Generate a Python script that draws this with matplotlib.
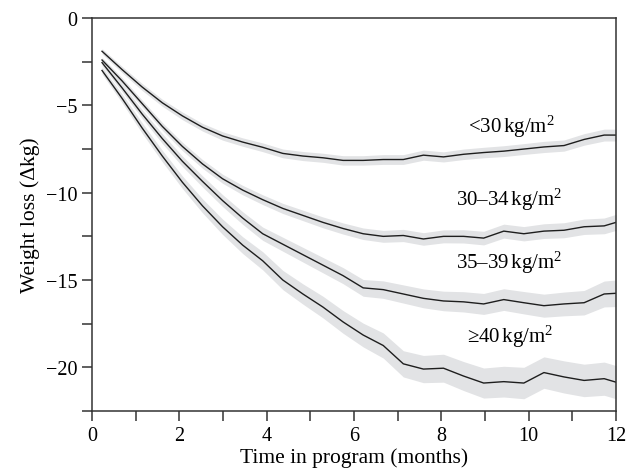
import numpy as np
import matplotlib
matplotlib.use("Agg")
import matplotlib.pyplot as plt

matplotlib.rcParams['font.family'] = 'serif'
matplotlib.rcParams['font.serif'] = ['Liberation Serif']
matplotlib.rcParams['mathtext.fontset'] = 'custom'
matplotlib.rcParams['mathtext.rm'] = 'Liberation Serif'
matplotlib.rcParams['mathtext.it'] = 'Liberation Serif:italic'
matplotlib.rcParams['font.size'] = 14

# time in program (months), one point every two weeks
months = [0.23, 0.69, 1.15, 1.61, 2.07, 2.53, 2.99, 3.45, 3.91, 4.37, 4.83, 5.29, 5.75,
          6.21, 6.67, 7.13, 7.59, 8.05, 8.51, 8.97, 9.43, 9.89, 10.35, 10.81, 11.27, 11.73, 12.0]

# mean weight loss per BMI group
bmi_lt30 = [-1.9, -2.95, -3.95, -4.85, -5.6, -6.25, -6.75, -7.1, -7.4, -7.75, -7.9, -8.0, -8.15,
            -8.15, -8.1, -8.1, -7.85, -7.95, -7.8, -7.7, -7.62, -7.5, -7.38, -7.3, -6.95, -6.7, -6.7]
bmi_30_34 = [-2.4, -3.6, -4.9, -6.2, -7.35, -8.35, -9.2, -9.85, -10.4, -10.9, -11.3, -11.7, -12.05,
             -12.35, -12.5, -12.45, -12.65, -12.5, -12.5, -12.6, -12.2, -12.35, -12.2, -12.15, -11.95, -11.9, -11.7]
bmi_35_39 = [-2.55, -4.0, -5.5, -6.9, -8.2, -9.35, -10.45, -11.45, -12.35, -12.95, -13.55, -14.15, -14.75,
             -15.45, -15.55, -15.8, -16.05, -16.2, -16.25, -16.37, -16.12, -16.3, -16.47, -16.37, -16.3, -15.8, -15.76]
bmi_ge40 = [-3.0, -4.6, -6.3, -7.9, -9.4, -10.75, -11.95, -13.0, -13.9, -15.0, -15.8, -16.55, -17.4,
            -18.15, -18.75, -19.8, -20.1, -20.05, -20.5, -20.9, -20.82, -20.9, -20.3, -20.55, -20.75, -20.65, -20.85]

# half width of the shaded confidence band
ci_lt30 = [0.15, 0.18, 0.2, 0.2, 0.22, 0.22, 0.24, 0.24, 0.25, 0.25, 0.26, 0.26, 0.27,
           0.27, 0.28, 0.28, 0.29, 0.29, 0.3, 0.3, 0.31, 0.31, 0.32, 0.32, 0.33, 0.34, 0.34]
ci_30_34 = [0.15, 0.18, 0.2, 0.22, 0.24, 0.25, 0.26, 0.27, 0.28, 0.29, 0.3, 0.31, 0.32,
            0.33, 0.34, 0.35, 0.36, 0.37, 0.38, 0.39, 0.4, 0.41, 0.42, 0.43, 0.44, 0.45, 0.46]
ci_35_39 = [0.18, 0.22, 0.25, 0.28, 0.3, 0.32, 0.34, 0.36, 0.38, 0.4, 0.42, 0.44, 0.46,
            0.48, 0.5, 0.52, 0.54, 0.56, 0.58, 0.6, 0.62, 0.64, 0.66, 0.68, 0.7, 0.74, 0.76]
ci_ge40 = [0.2, 0.25, 0.3, 0.33, 0.36, 0.4, 0.44, 0.48, 0.52, 0.55, 0.58, 0.62, 0.65,
           0.68, 0.72, 0.75, 0.78, 0.8, 0.83, 0.86, 0.88, 0.9, 0.9, 0.92, 0.93, 0.95, 0.95]

group_labels = [r"<30$\,$kg/m$^2$", r"30–34$\,$kg/m$^2$", r"35–39$\,$kg/m$^2$", r"≥40$\,$kg/m$^2$"]
label_pos = [(9.6, -6.15), (9.55, -10.35), (9.55, -13.95), (9.57, -18.2)]

series = [bmi_lt30, bmi_30_34, bmi_35_39, bmi_ge40]
bands = [ci_lt30, ci_30_34, ci_35_39, ci_ge40]

fig = plt.figure(figsize=(6.37, 4.77), dpi=100)
ax = fig.add_axes([0.1444, 0.1363, 0.8226, 0.8237])

x = np.array(months)
for y, ci in zip(series, bands):
    y = np.array(y)
    ci = np.array(ci)
    ax.fill_between(x, y - ci, y + ci, color="#e2e3e5", linewidth=0, zorder=1)
    ax.plot(x, y, color="#1e1e1e", linewidth=1.0, zorder=2)

for txt, (tx, ty) in zip(group_labels, label_pos):
    ax.text(tx, ty, txt, ha="center", va="center", fontsize=15)

ax.set_xlim(0, 12)
ax.set_ylim(-22.5, 0)
ax.set_xticks([0, 2, 4, 6, 8, 10, 12])
ax.set_xticks([1, 3, 5, 7, 9, 11], minor=True)
ax.set_yticks([0, -5, -10, -15, -20])
ax.set_yticks([-2.5, -7.5, -12.5, -17.5, -22.5], minor=True)
ax.set_yticklabels(["0", "\u22125", "\u221210", "\u221215", "\u221220"])
ax.tick_params(which="both", direction="out", length=7, width=1.1, color="#333333",
               labelsize=14.5, top=False, right=False)
for sp in ax.spines.values():
    sp.set_linewidth(1.1)
    sp.set_color("#333333")

ax.set_xlabel("Time in program (months)", fontsize=15.5, labelpad=2)
ax.set_ylabel("Weight loss (\u0394kg)", fontsize=15.5, labelpad=4)

plt.savefig("out.png", dpi=100)
